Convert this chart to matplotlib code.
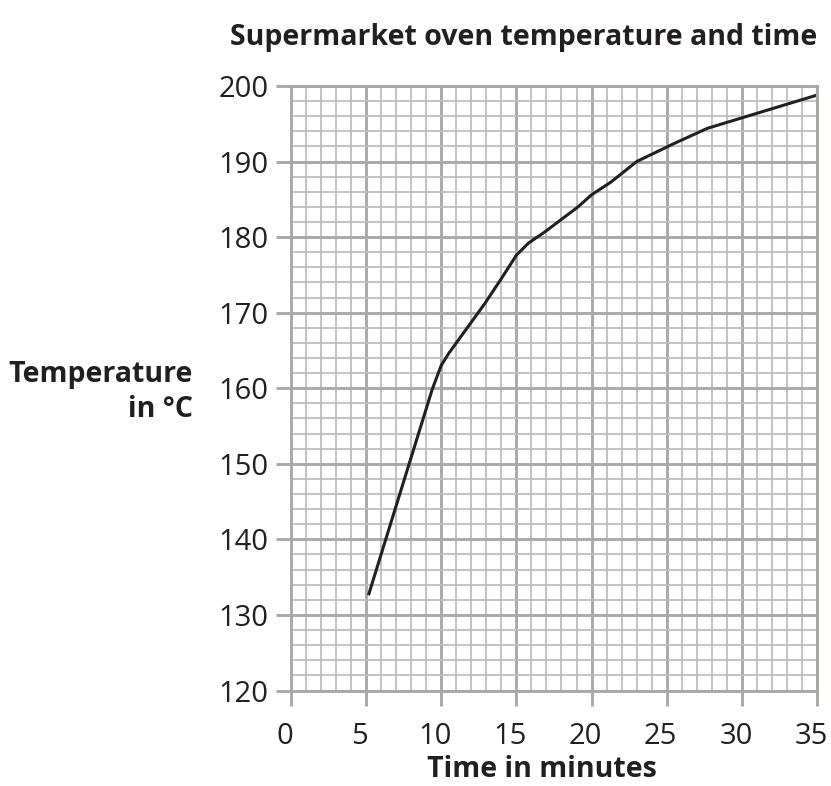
# -*- coding: utf-8 -*-

import matplotlib
matplotlib.use('Agg')
import matplotlib.pyplot as plt
import matplotlib.transforms as mtransforms
from matplotlib.ticker import MultipleLocator

# Curve
time_min = [5.2, 9.4, 10.0, 10.5, 12.9, 14.0, 15.0, 15.8, 16.9, 19.1,
            20.0, 21.3, 23.0, 25.5, 27.7, 35.0]
temp_c = [132.8, 159.8, 163.0, 164.6, 171.2, 174.5, 177.6, 179.2, 180.7, 184.0,
          185.6, 187.3, 190.0, 192.4, 194.4, 198.8]

x_ticks = [0, 5, 10, 15, 20, 25, 30, 35]
y_ticks = [120, 130, 140, 150, 160, 170, 180, 190, 200]

TextColor = '#231f20'
MajorGray = '#a7a9ac'
MinorGray = '#bcbec0'

W, H = 831, 786

plt.rcParams['font.family'] = ['Open Sans', 'DejaVu Sans']

fig = plt.figure(figsize=(W / 100, H / 100), dpi=100)
ax = fig.add_axes([0.3498, 0.1215, 0.6336, 0.7691])

ax.set_xlim(0, 35)
ax.set_ylim(120, 200)
ax.set_xticks(x_ticks)
ax.set_yticks(y_ticks)
ax.xaxis.set_minor_locator(MultipleLocator(1))
ax.yaxis.set_minor_locator(MultipleLocator(2))

ax.grid(which='minor', color=MinorGray, linewidth=1.3)
ax.grid(which='major', color=MajorGray, linewidth=2.1)
ax.set_axisbelow(True)

for s in ax.spines.values():
    s.set_color(MajorGray)
    s.set_linewidth(2.1)

ax.tick_params(which='major', length=11, width=2.1, color=MajorGray,
               labelsize=21, labelcolor=TextColor)
ax.tick_params(axis='x', which='major', pad=12)
ax.tick_params(axis='y', which='major', pad=5)
ax.tick_params(which='minor', length=0)

# x tick labels sit a little left of their lines
shift = mtransforms.ScaledTranslation(-6 / 100, 0, fig.dpi_scale_trans)
for lab in ax.get_xticklabels():
    lab.set_transform(lab.get_transform() + shift)

# Plot Section
ax.plot(time_min, temp_c, color=TextColor, linewidth=2.2, solid_joinstyle='round')

fig.text(523.5 / W, 1 - 44.5 / H, 'Supermarket oven temperature and time', ha='center',
         va='baseline', fontsize=20.5, fontweight='bold', color=TextColor)
fig.text(193 / W, 1 - 381.7 / H, 'Temperature', ha='right', va='baseline',
         fontsize=20.5, fontweight='bold', color=TextColor)
fig.text(193 / W, 1 - 416.7 / H, 'in °C', ha='right', va='baseline',
         fontsize=20.5, fontweight='bold', color=TextColor)
fig.text(541.5 / W, 1 - 777 / H, 'Time in minutes', ha='center', va='baseline',
         fontsize=20.5, fontweight='bold', color=TextColor)

fig.savefig('out.png', dpi=100)
